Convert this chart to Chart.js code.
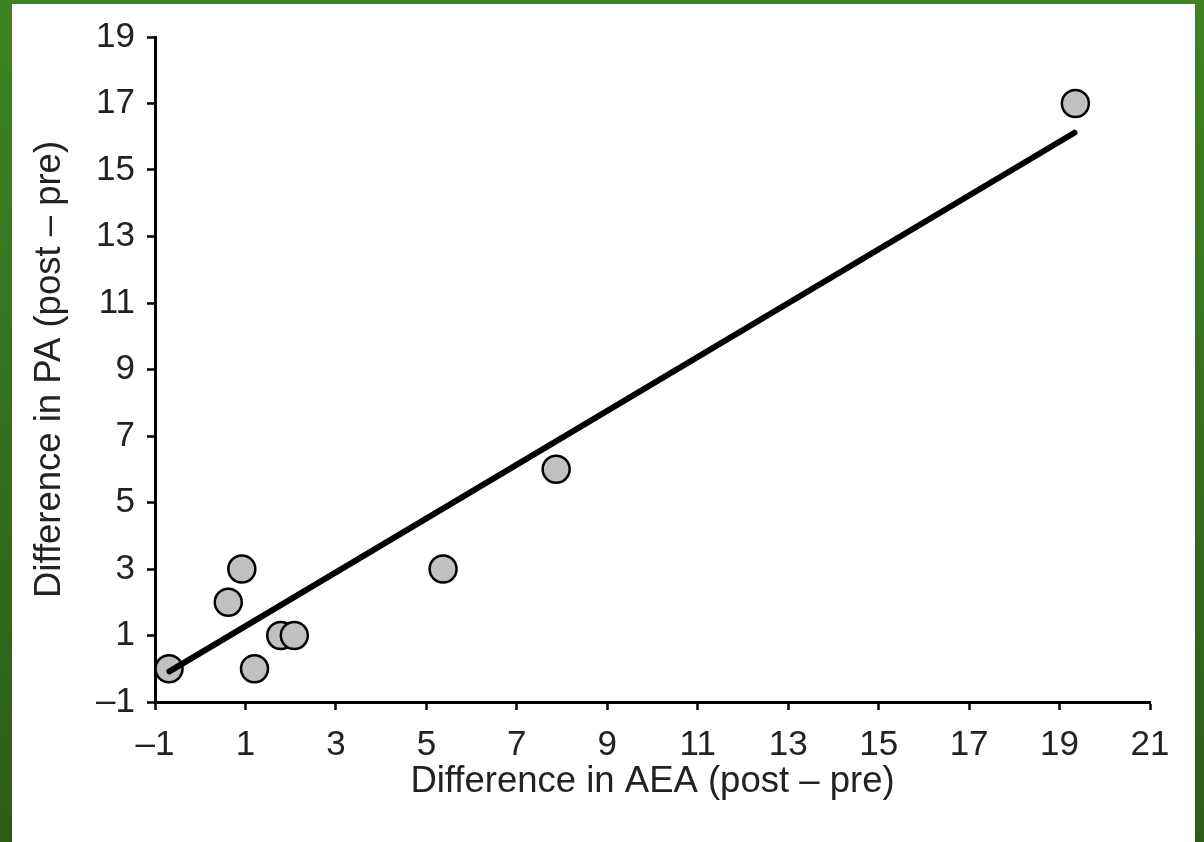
<!DOCTYPE html>
<html>
<head>
<meta charset="utf-8">
<script src="https://cdn.jsdelivr.net/npm/chart.js@4"></script>
<style>
  html, body { margin: 0; padding: 0; }
  body {
    width: 1204px; height: 842px; overflow: hidden;
    background: linear-gradient(to bottom, #3e8323, #2d5c18);
    position: relative;
  }
  #wrap { position: absolute; left: 12px; top: 4px; width: 1183px; height: 838px; background: #fff; }
</style>
</head>
<body>
<div id="wrap"><canvas id="scatter" width="1183" height="838"></canvas></div>
<script>
  // Points
  const aeaDiff = [19.35, 7.87, 5.37, 0.92, 0.62, 1.78, 2.08, 1.2, -0.69];
  const paDiff = [17, 6, 3, 3, 2, 1, 1, 0, 0];
  // Fitted line end points
  const fitX = [-0.68, 19.33];
  const fitY = [-0.08, 16.12];
  const xTicks = [-1, 1, 3, 5, 7, 9, 11, 13, 15, 17, 19, 21];
  const yTicks = [-1, 1, 3, 5, 7, 9, 11, 13, 15, 17, 19];

  const textColor = '#222222';
  const fontFamily = "'Liberation Sans', Arial, sans-serif";
  const minus = v => (v < 0 ? '\u2013' + Math.abs(v) : String(v));

  const axisBase = {
    type: 'linear',
    border: { display: true, color: '#000', width: 3 },
    grid: { drawOnChartArea: false, drawTicks: true, tickLength: 8, tickWidth: 2.5, tickColor: '#000' },
  };

  new Chart(document.getElementById('scatter'), {
    type: 'scatter',
    data: {
      datasets: [
        {
          type: 'line',
          data: fitX.map((x, i) => ({ x, y: fitY[i] })),
          borderColor: '#000',
          borderWidth: 6,
          borderCapStyle: 'round',
          pointRadius: 0,
          fill: false,
        },
        {
          data: aeaDiff.map((x, i) => ({ x, y: paDiff[i] })),
          backgroundColor: '#c0c0c0',
          borderColor: '#000',
          borderWidth: 2.5,
          pointRadius: 13.5,
          pointHoverRadius: 13.5,
        }
      ]
    },
    options: {
      responsive: false,
      animation: false,
      devicePixelRatio: 1,
      layout: { padding: { left: 0, top: 32, right: 45, bottom: 0 } },
      plugins: { legend: { display: false }, tooltip: { enabled: false } },
      scales: {
        x: {
          ...axisBase,
          min: -1, max: 21,
          afterBuildTicks: s => { s.ticks = xTicks.map(v => ({ value: v })); },
          afterFit: s => { s.height = 140; },
          ticks: { color: textColor, padding: 14, font: { family: fontFamily, size: 35 }, callback: minus, maxRotation: 0, autoSkip: false },
          title: { display: true, text: 'Difference in AEA (post \u2013 pre)', color: textColor, font: { family: fontFamily, size: 36.5 }, padding: { top: 0, bottom: 38 } },
        },
        y: {
          ...axisBase,
          min: -1, max: 19,
          afterBuildTicks: s => { s.ticks = yTicks.map(v => ({ value: v })); },
          afterFit: s => { s.width = 143; },
          ticks: { color: textColor, padding: 12, font: { family: fontFamily, size: 35 }, callback: minus, autoSkip: false },
          title: { display: true, text: 'Difference in PA (post \u2013 pre)', color: textColor, font: { family: fontFamily, size: 36.5 }, padding: { top: 16, bottom: 0 } },
        }
      }
    }
  });
</script>
</body>
</html>
